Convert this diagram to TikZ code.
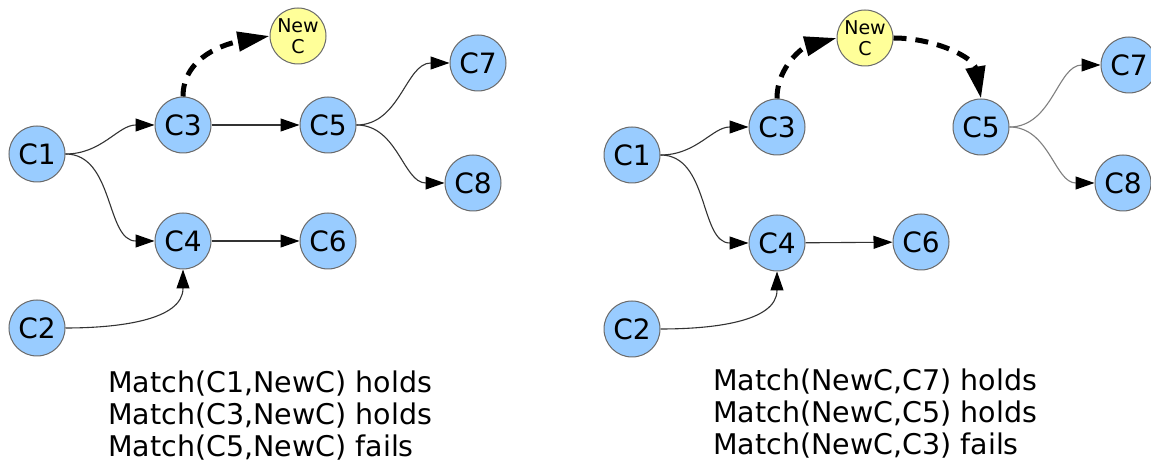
\documentclass[tikz,border=0pt]{standalone}
\usepackage{fontspec}
\setmainfont{DejaVu Sans}
\usetikzlibrary{arrows.meta}
\definecolor{nodeblue}{HTML}{99CCFF}
\definecolor{nodeyellow}{HTML}{FFFF99}
\definecolor{nodeline}{HTML}{6A6A6A}
\definecolor{edgecol}{HTML}{333333}
\definecolor{edgelight}{HTML}{808080}
\begin{document}
\begin{tikzpicture}[x=1pt,y=1pt,
  cnode/.style={circle,draw=nodeline,line width=1pt,fill=nodeblue,minimum size=56pt,inner sep=0pt,font=\fontsize{28}{30}\selectfont},
  newnode/.style={circle,draw=nodeline,line width=1pt,fill=nodeyellow,minimum size=56pt,inner sep=0pt,align=center,font=\fontsize{19}{21}\selectfont},
  edge/.style={draw=edgecol,line width=1.1pt,-{Triangle[length=19pt,width=13pt,color=black]}},
  lightedge/.style={edge,draw=edgelight},
  newedge/.style={draw=black,line width=5pt,dash pattern=on 13pt off 9pt,-{Triangle[length=32pt,width=19pt]}},
  caption/.style={anchor=base west,inner sep=0pt,font=\fontsize{28.5}{30}\selectfont}]
\fill[white] (0,0) rectangle (1151,468);
\useasboundingbox (0,0) rectangle (1151,468);

% ---------- left panel ----------
\node[cnode] (a1) at (37,314) {C1};
\node[cnode] (a2) at (37,140) {C2};
\node[cnode] (a3) at (183,343) {C3};
\node[cnode] (a4) at (183,227) {C4};
\node[cnode] (a5) at (328,343) {C5};
\node[cnode] (a6) at (328,227) {C6};
\node[cnode] (a7) at (478,405) {C7};
\node[cnode] (a8) at (473,285) {C8};
\node[newnode] (an) at (298,432) {New\\C};

\draw[edge] (a1.east) to[out=0,in=180] (a3.west);
\draw[edge] (a1.east) to[out=0,in=180] (a4.west);
\draw[edge] (a2.east) to[out=0,in=-90] (a4.south);
\draw[edge] (a3) -- (a5);
\draw[edge] (a4) -- (a6);
\draw[edge] (a5.east) to[out=0,in=180] (a7.west);
\draw[edge] (a5.east) to[out=0,in=180] (a8.west);
\draw[newedge] (a3.north) to[out=90,in=190] (an.west);

\node[caption] (at1) at (108,75) {Match(C1,NewC) holds};
\node[caption] (at2) at (108,43) {Match(C3,NewC) holds};
\node[caption] (at3) at (108,11) {Match(C5,NewC) fails};

% ---------- right panel ----------
\node[cnode] (b1) at (632,313) {C1};
\node[cnode] (b2) at (632,139) {C2};
\node[cnode] (b3) at (777,341) {C3};
\node[cnode] (b4) at (777,225) {C4};
\node[cnode] (b6) at (921,226) {C6};
\node[cnode] (b5) at (981,341) {C5};
\node[cnode] (b7) at (1129,403) {C7};
\node[cnode] (b8) at (1123,285) {C8};
\node[newnode] (bn) at (865,430) {New\\C};

\draw[edge] (b1.east) to[out=0,in=180] (b3.west);
\draw[edge] (b1.east) to[out=0,in=180] (b4.west);
\draw[edge] (b2.east) to[out=0,in=-90] (b4.south);
\draw[edge] (b4) -- (b6);
\draw[lightedge] (b5.east) to[out=0,in=180] (b7.west);
\draw[lightedge] (b5.east) to[out=0,in=180] (b8.west);
\draw[newedge] (b3.north) to[out=90,in=195] (bn.west);
\draw[newedge] (bn.east) to[out=0,in=100] (b5.north);

\node[caption] (bt1) at (713,77) {Match(NewC,C7) holds};
\node[caption] (bt2) at (713,45) {Match(NewC,C5) holds};
\node[caption] (bt3) at (713,13) {Match(NewC,C3) fails};
\end{tikzpicture}
\end{document}
